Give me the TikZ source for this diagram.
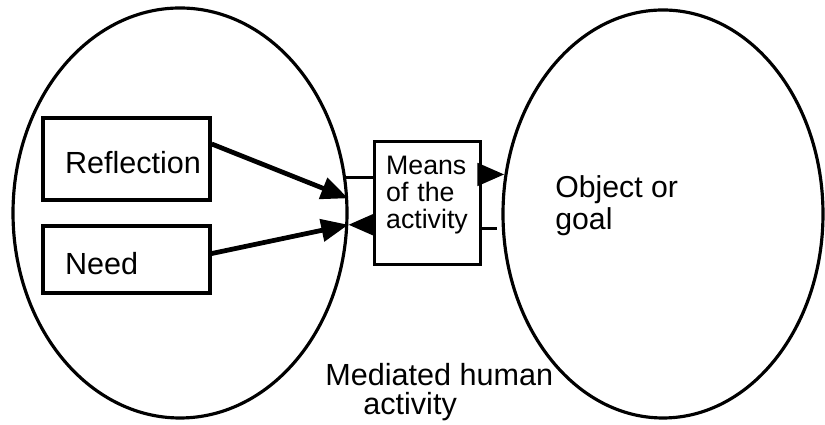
\documentclass[tikz,border=0pt]{standalone}
\usepackage{fontspec}
\setmainfont{Liberation Sans}
\usetikzlibrary{arrows.meta,shapes.geometric}

\begin{document}
\begin{tikzpicture}[
        oval/.style={draw,ellipse,line width=1.8pt,inner sep=0pt},
        sidebox/.style={draw,line width=1.9pt,text width=3.0cm,inner xsep=0.17cm,inner ysep=0pt,align=left,text height=0.6cm,text depth=0pt,font=\fontsize{17.4}{20}\selectfont,execute at begin node={\hspace*{0.27cm}}},
        tip/.style={-{Triangle[length=0.54cm,width=0.44cm]},line width=2.7pt},
        stub/.style={line width=1.8pt},
        lbl/.style={align=left,inner sep=0pt,font=\fontsize{17.2}{18.7}\selectfont}
    ]
            \useasboundingbox (0,0) rectangle (16.5,8.5);
            \node[oval,minimum width=6.68cm,minimum height=8.2cm] (act) at (3.6,4.24) {};
            \node[oval,minimum width=6.4cm,minimum height=8.16cm] (obj) at (13.26,4.22) {};

            \node[sidebox,minimum height=1.64cm] (refl) at (2.53,5.32) {Reflection};
            \node[sidebox,minimum height=1.34cm] (need) at (2.53,3.31) {Need};
            \node[draw,line width=1.9pt,text width=1.66cm,inner xsep=0.23cm,inner ysep=0pt,align=left,text height=0.66cm,text depth=1.8cm,font=\fontsize{15.2}{15.3}\selectfont,anchor=north west] (means) at (7.46,5.7) {Means\\of the\\activity};

            \node[lbl,anchor=base west] (goal) at (11.1,3.9) {Object or\\goal};
            \node[lbl,anchor=base west,font=\fontsize{17.4}{17}\selectfont] (med) at (6.5,0.2) {Mediated human\\\hspace*{0.76cm}activity};

            \draw[tip] (refl.10) -- (act.5);
            \draw[tip] (need.4) -- (act.-4.5);
            \draw[tip] (act.-4.5 -| means.west) -- (act.-4.5);
            \draw[stub] (act.12) -- (act.12 -| means.west);
            \draw[tip] (obj.166 -| means.east) -- (obj.166);
            \coordinate (gap) at ([xshift=-0.1cm]obj.185);
            \draw[stub] (gap -| means.east) -- (gap);
        \end{tikzpicture}
\end{document}
